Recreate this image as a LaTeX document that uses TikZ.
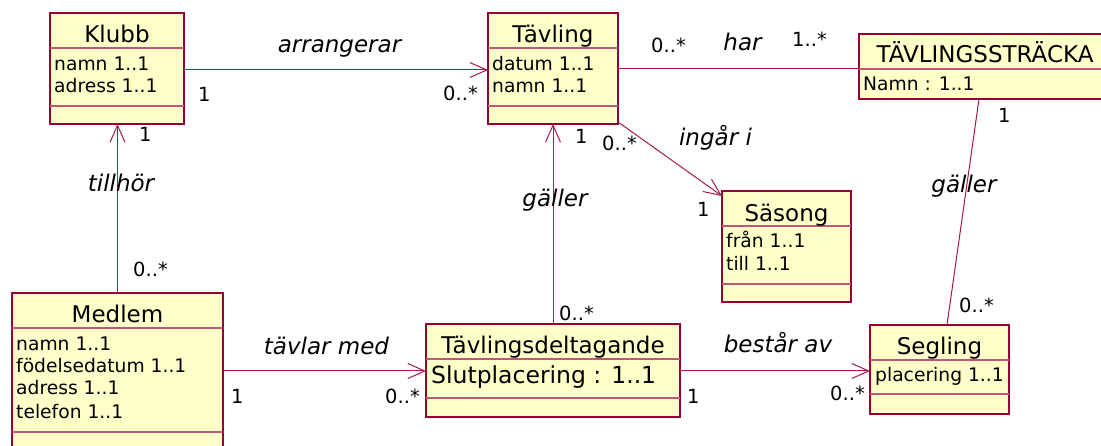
\documentclass[tikz,border=0pt]{standalone}
\usepackage{fontspec}
\setmainfont{DejaVu Sans}
\usetikzlibrary{arrows.meta,calc}
\definecolor{fillc}{RGB}{255,255,202}
\definecolor{bordc}{RGB}{150,0,55}
\definecolor{divc}{RGB}{195,85,120}
\definecolor{linec}{RGB}{165,25,75}
\tikzset{
 cls/.style={draw=bordc, fill=fillc, line width=1.5pt, inner sep=0pt, outer sep=0pt, anchor=north west},
 divl/.style={draw=divc, line width=1.2pt},
 ctitle/.style={font=\fontsize{23}{23}\selectfont, anchor=base, inner sep=0pt},
 attr/.style={font=\fontsize{18.7}{18.7}\selectfont, anchor=base west, inner sep=0pt},
 mult/.style={font=\fontsize{19.5}{19.5}\selectfont, anchor=base west, inner sep=0pt},
 lab/.style={font=\itshape\fontsize{23}{23}\selectfont, anchor=base, inner sep=0pt},
 assoc/.style={draw=linec, line width=1pt},
 nav/.style={assoc, -{Straight Barb[length=17pt,width=15pt,line width=1pt]}},
}
\begin{document}
\begin{tikzpicture}[x=1pt,y=-1pt]
\useasboundingbox (0,0) rectangle (1101,446);
\clip (0,0) rectangle (1101,446);

% ---------- classes ----------
% Klubb
\node[cls, minimum width=134pt, minimum height=111pt] (klubb) at (50,13) {};
\draw[divl] ($(klubb.north west)+(0,35)$) -- ($(klubb.north east)+(0,35)$);
\draw[divl] ($(klubb.north west)+(0,93)$) -- ($(klubb.north east)+(0,93)$);
\node[ctitle] (klubbT) at ($(klubb.north)+(0,30)$) {Klubb};
\node[attr] (klubbA1) at ($(klubb.north west)+(4,58)$) {namn 1..1};
\node[attr] (klubbA2) at ($(klubb.north west)+(4,80)$) {adress 1..1};

% Tävling
\node[cls, minimum width=130pt, minimum height=111pt] (tavling) at (488,13) {};
\draw[divl] ($(tavling.north west)+(0,35)$) -- ($(tavling.north east)+(0,35)$);
\draw[divl] ($(tavling.north west)+(0,93)$) -- ($(tavling.north east)+(0,93)$);
\node[ctitle] (tavlingT) at ($(tavling.north)+(0,30)$) {Tävling};
\node[attr] (tavlingA1) at ($(tavling.north west)+(4,58)$) {datum 1..1};
\node[attr] (tavlingA2) at ($(tavling.north west)+(4,80)$) {namn 1..1};

% TÄVLINGSSTRÄCKA
\node[cls, minimum width=252pt, minimum height=65pt] (tavl) at (859,34) {};
\draw[divl] ($(tavl.north west)+(0,35)$) -- ($(tavl.north east)+(0,35)$);
\node[ctitle] (tavlT) at ($(tavl.north)+(0,29)$) {TÄVLINGSSTRÄCKA};
\node[attr] (tavlA1) at ($(tavl.north west)+(4,57)$) {Namn : 1..1};

% Medlem
\node[cls, minimum width=211pt, minimum height=170pt] (medlem) at (12,293) {};
\draw[divl] ($(medlem.north west)+(0,35)$) -- ($(medlem.north east)+(0,35)$);
\draw[divl] ($(medlem.north west)+(0,139)$) -- ($(medlem.north east)+(0,139)$);
\node[ctitle] (medlemT) at ($(medlem.north)+(0,30)$) {Medlem};
\node[attr] (medlemA1) at ($(medlem.north west)+(4,58)$) {namn 1..1};
\node[attr] (medlemA2) at ($(medlem.north west)+(4,80)$) {födelsedatum 1..1};
\node[attr] (medlemA3) at ($(medlem.north west)+(4,102)$) {adress 1..1};
\node[attr] (medlemA4) at ($(medlem.north west)+(4,125)$) {telefon 1..1};

% Tävlingsdeltagande
\node[cls, minimum width=254pt, minimum height=93pt] (tvd) at (426,324) {};
\draw[divl] ($(tvd.north west)+(0,35)$) -- ($(tvd.north east)+(0,35)$);
\draw[divl] ($(tvd.north west)+(0,74)$) -- ($(tvd.north east)+(0,74)$);
\node[ctitle] (tvdT) at ($(tvd.north)+(0,30)$) {Tävlingsdeltagande};
\node[attr, font=\fontsize{23.5}{23.5}\selectfont] (tvdA1) at ($(tvd.north west)+(5,60)$) {Slutplacering : 1..1};

% Säsong
\node[cls, minimum width=129pt, minimum height=111pt] (sasong) at (722,191) {};
\draw[divl] ($(sasong.north west)+(0,35)$) -- ($(sasong.north east)+(0,35)$);
\draw[divl] ($(sasong.north west)+(0,93)$) -- ($(sasong.north east)+(0,93)$);
\node[ctitle] (sasongT) at ($(sasong.north)+(0,31)$) {Säsong};
\node[attr] (sasongA1) at ($(sasong.north west)+(4,57)$) {från 1..1};
\node[attr] (sasongA2) at ($(sasong.north west)+(4,80)$) {till 1..1};

% Segling
\node[cls, minimum width=139pt, minimum height=89pt] (segling) at (870,325) {};
\draw[divl] ($(segling.north west)+(0,35)$) -- ($(segling.north east)+(0,35)$);
\draw[divl] ($(segling.north west)+(0,69)$) -- ($(segling.north east)+(0,69)$);
\node[ctitle] (seglingT) at ($(segling.north)+(0,30)$) {Segling};
\node[attr] (seglingA1) at ($(segling.north west)+(5,57)$) {placering 1..1};

% ---------- connectors ----------
\coordinate (a1) at ($(klubb.north east)+(0,57)$);
\draw[nav] (a1) -- (a1 -| tavling.west);
\draw[nav] (medlem.north) -- (medlem.north |- klubb.south);
\coordinate (h1) at ($(tavling.north east)+(0,56)$);
\draw[assoc] (h1) -- (h1 -| tavl.west);
\draw[nav] ($(tavling.south east)+(0,-2)$) -- ($(sasong.north west)+(0,5)$);
\draw[nav] (tvd.north) -- (tavling.south);
\coordinate (t1) at ($(medlem.north east)+(0,78)$);
\draw[nav] (t1) -- (t1 -| tvd.west);
\coordinate (b1) at ($(tvd.north east)+(0,47)$);
\draw[nav] (b1) -- (b1 -| segling.west);
\draw[assoc] ($(tavl.south west)+(120,0)$) -- ($(segling.north west)+(77,0)$);

% ---------- association labels ----------
\node[lab] (l1) at (339.5,53) {arrangerar};
\node[lab] (l2) at (121,192) {tillhör};
\node[lab] (l3) at (742.5,51) {har};
\node[lab] (l4) at (715.5,146) {ingår i};
\node[lab] (l5) at (555,207) {gäller};
\node[lab] (l6) at (964,193) {gäller};
\node[lab] (l7) at (326.5,355) {tävlar med};
\node[lab] (l8) at (778,353) {består av};

% ---------- multiplicities ----------
\node[mult] (m1) at (198,102) {1};
\node[mult] (m2) at (443,101) {0..*};
\node[mult] (m3) at (139,142) {1};
\node[mult] (m4) at (133,277) {0..*};
\node[mult] (m5) at (651,53) {0..*};
\node[mult] (m6) at (792,47) {1..*};
\node[mult] (m7) at (575,144) {1};
\node[mult] (m8) at (602,151) {0..*};
\node[mult] (m9) at (697,217) {1};
\node[mult] (m10) at (559,321) {0..*};
\node[mult] (m11) at (231,403) {1};
\node[mult] (m12) at (385,403) {0..*};
\node[mult] (m13) at (687,403) {1};
\node[mult] (m14) at (830,400) {0..*};
\node[mult] (m15) at (998,123) {1};
\node[mult] (m16) at (959,313) {0..*};
\end{tikzpicture}
\end{document}
